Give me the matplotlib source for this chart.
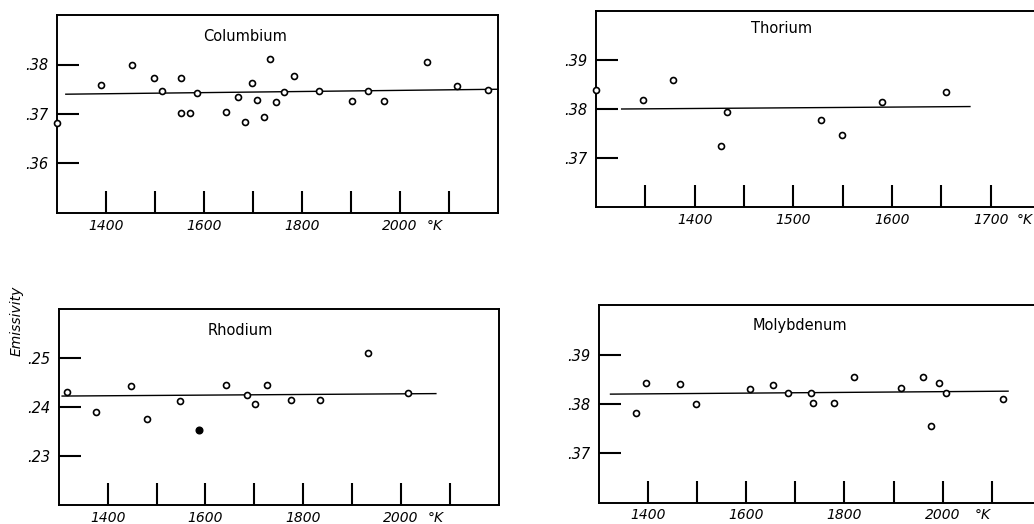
import matplotlib
matplotlib.use("Agg")
import matplotlib.pyplot as plt
from matplotlib.ticker import FixedLocator, FixedFormatter

# ---------------- data ----------------
# Columbium
co_T = [1301, 1389, 1454, 1498, 1515, 1553, 1554, 1571, 1586, 1645, 1670, 1683, 1698,
        1708, 1723, 1734, 1746, 1763, 1784, 1835, 1903, 1934, 1967, 2055, 2117, 2179]
co_E = [0.3681, 0.3759, 0.3799, 0.3772, 0.3747, 0.3773, 0.3702, 0.3702, 0.3743, 0.3704,
        0.3735, 0.3684, 0.3763, 0.3729, 0.3694, 0.3812, 0.3725, 0.3745, 0.3776, 0.3746,
        0.3727, 0.3746, 0.3727, 0.3806, 0.3757, 0.3748]
co_fit_T = [1318, 2200]
co_fit_E = [0.3740, 0.3750]

# Thorium
th_T = [1300, 1348, 1378, 1427, 1433, 1528, 1549, 1590, 1655]
th_E = [0.3838, 0.3818, 0.3860, 0.3725, 0.3793, 0.3777, 0.3747, 0.3814, 0.3835]
th_fit_T = [1326, 1679]
th_fit_E = [0.3800, 0.3805]

# Rhodium
rh_T = [1317, 1377, 1447, 1481, 1548, 1642, 1685, 1701, 1725, 1775, 1834, 1933, 2015]
rh_E = [0.2431, 0.2390, 0.2442, 0.2375, 0.2411, 0.2444, 0.2424, 0.2405, 0.2444,
        0.2413, 0.2414, 0.2510, 0.2428]
rh_solid_T = [1586]
rh_solid_E = [0.2352]
rh_fit_T = [1307, 2071]
rh_fit_E = [0.2422, 0.2427]

# Molybdenum
mo_T = [1376, 1397, 1466, 1498, 1608, 1654, 1685, 1732, 1737, 1778, 1819, 1916,
        1959, 1977, 1993, 2007, 2122]
mo_E = [0.3782, 0.3842, 0.3840, 0.3801, 0.3830, 0.3839, 0.3823, 0.3823, 0.3802,
        0.3803, 0.3855, 0.3832, 0.3854, 0.3756, 0.3842, 0.3823, 0.3811]
mo_fit_T = [1324, 2133]
mo_fit_E = [0.3820, 0.3826]

# ticks
wide_xticks = [1400, 1500, 1600, 1700, 1800, 1900, 2000, 2100]
wide_xlabels = ["1400", "", "1600", "", "1800", "", "2000", ""]
th_xticks = [1350, 1400, 1450, 1500, 1550, 1600, 1650, 1700]
th_xlabels = ["", "1400", "", "1500", "", "1600", "", "1700"]
co_yticks = [0.36, 0.37, 0.38]
th_yticks = [0.37, 0.38, 0.39]
rh_yticks = [0.23, 0.24, 0.25]
mo_yticks = [0.37, 0.38, 0.39]

# ---------------- figure ----------------
W, H = 1034, 524
fig = plt.figure(figsize=(W / 100, H / 100), dpi=100)
fig.patch.set_facecolor("white")


def make_ax(l, r, t, b):
    return fig.add_axes([l / W, 1 - b / H, (r - l) / W, (b - t) / H])


def style(ax, xlim, ylim, xt, xl, yt, title, tpos, kpos):
    ax.set_xlim(*xlim)
    ax.set_ylim(*ylim)
    for s in ax.spines.values():
        s.set_linewidth(1.4)
        s.set_color("black")
    ax.xaxis.set_major_locator(FixedLocator(xt))
    ax.xaxis.set_major_formatter(FixedFormatter(xl))
    ax.yaxis.set_major_locator(FixedLocator(yt))
    ax.yaxis.set_major_formatter(FixedFormatter(["." + f"{v:.2f}".split(".")[1] for v in yt]))
    ax.tick_params(axis="both", direction="in", length=16, width=1.5, color="black")
    ax.tick_params(axis="x", pad=4)
    ax.tick_params(axis="y", pad=6)
    for lab in ax.get_xticklabels() + ax.get_yticklabels():
        lab.set_fontstyle("italic")
        lab.set_fontsize(10)
    for lab in ax.get_yticklabels():
        lab.set_fontsize(10.5)
    ax.text(tpos[0], tpos[1], title, transform=ax.transAxes, ha="center", va="center",
            fontsize=10.5)
    ax.annotate("°K", xy=(kpos, 0), xycoords=("data", "axes fraction"),
                xytext=(0, -4), textcoords="offset points", ha="center", va="top",
                fontsize=10, fontstyle="italic", annotation_clip=False)


def draw(ax, T, E, fT, fE):
    ax.plot(fT, fE, color="black", lw=1.0, clip_on=False)
    ax.plot(T, E, linestyle="none", marker="o", ms=4.3, mfc="white", mec="black",
            mew=1.2, clip_on=False, zorder=3)


ax1 = make_ax(57, 498, 15, 213)
style(ax1, (1300, 2200), (0.350, 0.390), wide_xticks, wide_xlabels, co_yticks,
      "Columbium", (0.426, 0.889), 2070)
draw(ax1, co_T, co_E, co_fit_T, co_fit_E)

ax2 = make_ax(596, 1040, 11, 207)
style(ax2, (1300, 1750), (0.360, 0.400), th_xticks, th_xlabels, th_yticks,
      "Thorium", (0.417, 0.913), 1735)
draw(ax2, th_T, th_E, th_fit_T, th_fit_E)

ax3 = make_ax(58.7, 499, 308.7, 505)
style(ax3, (1300, 2200), (0.220, 0.260), wide_xticks, wide_xlabels, rh_yticks,
      "Rhodium", (0.412, 0.891), 2071)
draw(ax3, rh_T, rh_E, rh_fit_T, rh_fit_E)
ax3.plot(rh_solid_T, rh_solid_E, linestyle="none", marker="o", ms=4.8, mfc="black",
         mec="black", zorder=3)

ax4 = make_ax(598.7, 1041, 305.3, 502.7)
style(ax4, (1300, 2200), (0.360, 0.400), wide_xticks, wide_xlabels, mo_yticks,
      "Molybdenum", (0.454, 0.900), 2082)
draw(ax4, mo_T, mo_E, mo_fit_T, mo_fit_E)

fig.text(17 / W, 1 - 321 / H, "Emissivity", rotation=90, ha="center", va="center",
         fontsize=10, fontstyle="italic")

fig.savefig("out.png", dpi=100, facecolor="white")
